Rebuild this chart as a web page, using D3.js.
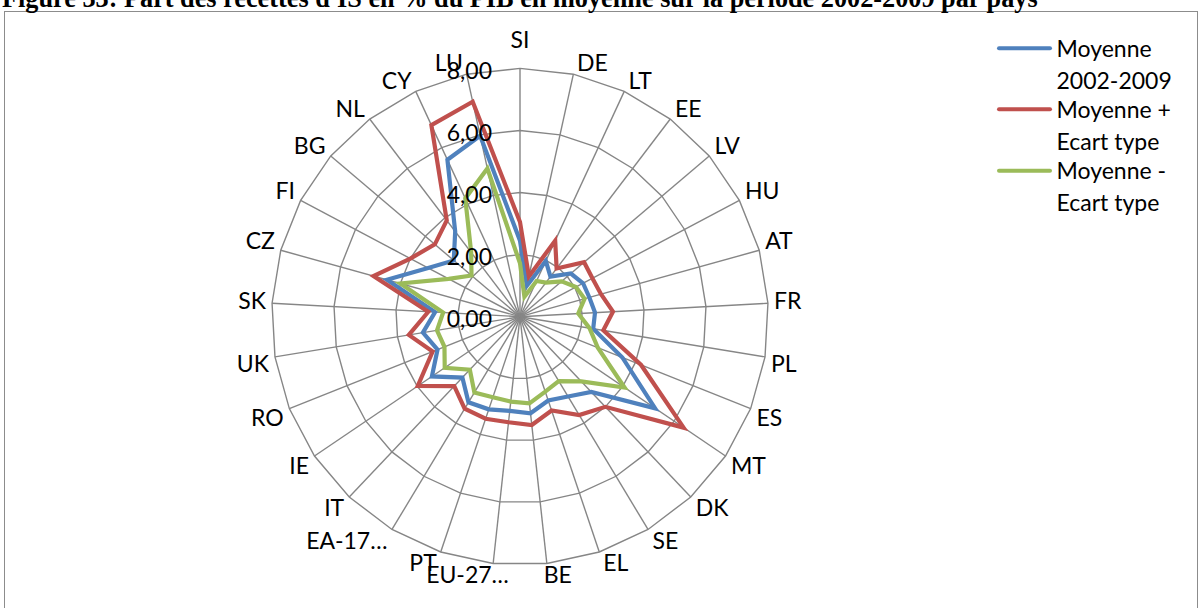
<!DOCTYPE html>
<html><head><meta charset="utf-8">
<script src="https://cdn.jsdelivr.net/npm/d3@7"></script>
<style>body{margin:0;background:#fff;} svg{display:block;}</style>
</head><body>
<svg id="c" width="1202" height="608"></svg>
<script>
const categories = ["SI","DE","LT","EE","LV","HU","AT","FR","PL","ES","MT","DK","SE","EL","BE","EU-27…","PT","EA-17…","IT","IE","RO","UK","SK","CZ","FI","BG","NL","CY","LU"];
const meanValues  = [2.45,1.02,1.98,1.62,2.15,2.30,2.32,2.42,2.39,3.55,5.26,3.34,3.00,2.85,3.13,3.05,3.15,3.22,2.70,3.43,2.86,3.17,2.74,4.45,3.35,2.80,3.45,5.57,5.97];
const plusValues  = [3.05,1.33,2.70,1.95,2.71,2.64,2.71,3.00,2.72,4.20,6.37,4.00,3.70,3.19,3.51,3.42,3.47,3.46,3.08,3.98,3.03,3.63,2.96,4.90,4.00,3.60,3.90,6.80,7.09];
const minusValues = [1.72,0.66,1.27,1.38,1.76,2.04,2.16,1.88,2.27,2.70,4.07,2.87,2.42,2.55,2.81,2.75,2.74,2.85,2.35,2.93,2.62,2.71,2.48,4.00,2.60,2.05,2.60,4.20,4.89];
const tickValues = [0,2,4,6,8];
const tickLabels = ["0,00","2,00","4,00","6,00","8,00"];
const seriesNames = [["Moyenne","2002-2009"],["Moyenne +","Ecart type"],["Moyenne -","Ecart type"]];
const seriesColors = ["#4F81BD","#C0504D","#9BBB59"];
const titleText = "Figure 33: Part des recettes d'IS en % du PIB en moyenne sur la période 2002-2009 par pays";

const cx = 520, cy = 316.7, R = 248.3;
const FONT = "Lato, 'Open Sans', sans-serif", FS = 23, CAP = FS*0.72;
const svg = d3.select("#c");

// frame
svg.append("rect").attr("x",4.5).attr("y",11.5).attr("width",1193).attr("height",620)
  .attr("fill","none").attr("stroke","#8c8c8c").attr("stroke-width",1);

// title
const title = svg.append("text").attr("x",2).attr("y",7)
  .attr("font-family","'Liberation Serif','Times New Roman',serif").attr("font-weight","bold")
  .attr("font-size",22).attr("fill","#000").text(titleText);
const tl = title.node().getComputedTextLength();
title.attr("font-size", 22*1036/tl);

const rScale = d3.scaleLinear().domain([0,8]).range([0,R]);
const aScale = d3.scaleLinear().domain([0,categories.length]).range([0,2*Math.PI]);
const g = svg.append("g").attr("transform",`translate(${cx},${cy})`);

// rings
const ring = d3.lineRadial().angle((d,i)=>aScale(i)).radius(d=>rScale(d)).curve(d3.curveLinearClosed);
tickValues.filter(v=>v>0).forEach(v=>{
  g.append("path").attr("d",ring(categories.map(()=>v)))
   .attr("fill","none").attr("stroke","#868686").attr("stroke-width",1.4);
});
// spokes
g.selectAll("line.spoke").data(categories).enter().append("line")
  .attr("x1",0).attr("y1",0)
  .attr("x2",(d,i)=>rScale(8)*Math.sin(aScale(i)))
  .attr("y2",(d,i)=>-rScale(8)*Math.cos(aScale(i)))
  .attr("stroke","#868686").attr("stroke-width",1.4);

// series
const line = d3.lineRadial().angle((d,i)=>aScale(i)).radius(d=>rScale(d)).curve(d3.curveLinearClosed);
[meanValues,plusValues,minusValues].forEach((vals,k)=>{
  g.append("path").attr("d",line(vals)).attr("fill","none")
   .attr("stroke",seriesColors[k]).attr("stroke-width",4.2).attr("stroke-linejoin","miter");
});

// tick labels
g.selectAll("text.tick").data(tickValues).enter().append("text")
  .attr("x",492-cx).attr("y",d=>-rScale(d)+CAP/2+2)
  .attr("text-anchor","end").attr("font-family",FONT).attr("font-size",FS).attr("fill","#000")
  .text((d,i)=>tickLabels[i]);

// category labels
const clamp=(v)=>Math.max(0,Math.min(1,v));
g.selectAll("text.cat").data(categories).enter().append("text")
  .attr("font-family",FONT).attr("font-size",FS).attr("fill","#000")
  .text(d=>d)
  .each(function(d,i){
    const a=aScale(i), s=Math.sin(a), c=Math.cos(a);
    const w=this.getComputedTextLength(), h=CAP;
    const gap = Math.abs(s)<0.01 ? 20 : 3;
    const ex = R*s + s*gap + Math.sign(Math.round(s*100))*3, ey = -R*c - c*gap;
    const fx = clamp(0.5-2.5*s), fy = clamp(0.5+2.5*c);
    const left = ex - fx*w, top = ey - fy*h;
    d3.select(this).attr("x",left).attr("y",top+h);
  });

// legend
const lg = svg.append("g");
const legY = [48.3,109.3,170.7];
seriesNames.forEach((nm,k)=>{
  lg.append("line").attr("x1",999).attr("x2",1050).attr("y1",legY[k]).attr("y2",legY[k])
    .attr("stroke",seriesColors[k]).attr("stroke-width",4).attr("stroke-linecap","round");
  nm.forEach((t,j)=>{
    lg.append("text").attr("x",1056.5).attr("y",legY[k]+j*32.5+CAP/2)
      .attr("font-family",FONT).attr("font-size",FS).attr("fill","#000").text(t);
  });
});
</script>
</body></html>
